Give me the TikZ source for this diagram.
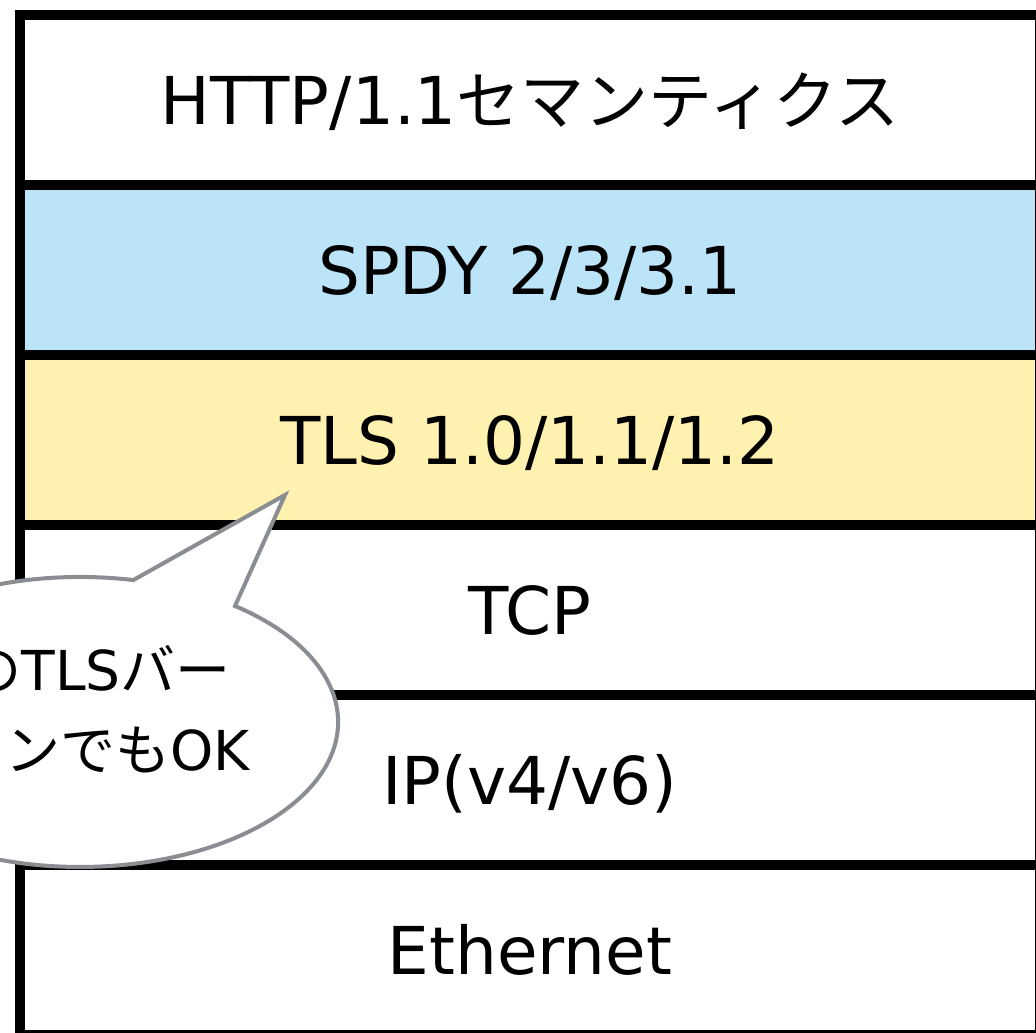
\documentclass[tikz,border=0pt]{standalone}
\usepackage{fontspec}
\setmainfont{DejaVu Sans}
\newfontfamily\jp{Noto Sans CJK JP}
\definecolor{spdyblue}{HTML}{BBE4F9}
\definecolor{tlsyellow}{HTML}{FFF1B0}
\definecolor{bubblegray}{HTML}{8A8D91}
\begin{document}
\begin{tikzpicture}[x=1pt,y=-1pt,
  layer/.style={draw=black, line width=10pt, fill=white, minimum width=1020pt, minimum height=170pt,
    inner sep=0pt, font=\fontsize{66}{70}\selectfont, text height=48pt, text depth=0pt},
  bubble/.style={draw=bubblegray, line width=4pt, fill=white, line join=miter},
  btext/.style={font=\fontsize{55}{60}\selectfont, anchor=base east, inner sep=0pt}]
\useasboundingbox (0,0) rectangle (1036,1033);
\clip (0,0) rectangle (1036,1033);
\node[layer] (http) at (530,100) {HTTP/1.1{\jp\fontsize{64}{70}\selectfont セマンティクス}};
\node[layer, fill=spdyblue] (spdy) at (530,270) {SPDY 2/3/3.1};
\node[layer, fill=tlsyellow] (tls) at (530,440) {TLS 1.0/1.1/1.2};
\node[layer] (tcp) at (530,610) {TCP};
\node[layer] (ip) at (530,780) {IP(v4/v6)};
\node[layer] (eth) at (530,950) {Ethernet};
\draw[bubble] (285,495) coordinate (tip) -- (235,606)
  arc[start angle=-53.1, end angle=281.9, x radius=258, y radius=145] -- cycle;
\node[btext] (b1) at (231,690) {{\jp どの}TLS{\jp バー}};
\node[btext] (b2) at (250,770) {{\jp ジョンでも}OK};
\end{tikzpicture}
\end{document}
